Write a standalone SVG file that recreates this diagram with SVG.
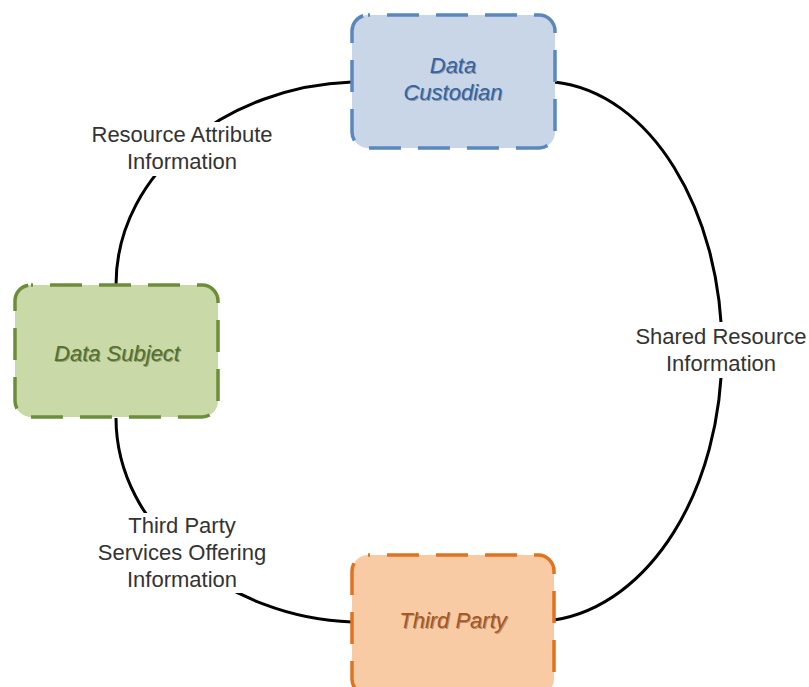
<svg xmlns="http://www.w3.org/2000/svg" width="809" height="687" viewBox="0 0 809 687">
<defs>
<style>
.box{stroke-width:3.5;stroke-dasharray:32 17;stroke-dashoffset:30}
.conn{fill:none;stroke:#000;stroke-width:3}
.lbl{font-family:"Liberation Sans",Arial,sans-serif;font-size:22px;fill:#333;text-anchor:middle}
.nt{font-family:"Liberation Sans",Arial,sans-serif;font-size:22px;font-style:italic;text-anchor:middle}
.sh{fill:#000;fill-opacity:0.3}
</style>
</defs>
<rect width="809" height="687" fill="#fff"/>
<g id="connectors">
<path class="conn" d="M352,82 C230,86 116,170 116,285"/>
<path class="conn" d="M554,82 C650,92 722,210 722,350 C722,490 650,605 554,620"/>
<path class="conn" d="M116,418 C116,530 230,618 352,622"/>
<rect x="86" y="122" width="194" height="54" fill="#fff"/>
<rect x="632" y="322" width="177" height="56" fill="#fff"/>
<rect x="94" y="513" width="177" height="80" fill="#fff"/>
<text class="lbl" x="182" y="142">Resource Attribute</text>
<text class="lbl" x="182" y="169">Information</text>
<text class="lbl" x="721" y="344">Shared Resource</text>
<text class="lbl" x="721" y="371">Information</text>
<text class="lbl" x="182" y="533">Third Party</text>
<text class="lbl" x="182" y="560">Services Offering</text>
<text class="lbl" x="182" y="587">Information</text>
</g>
<g id="data-custodian">
<rect class="box" x="352" y="15" width="203" height="133" rx="16" fill="#c8d6e8" stroke="#5b87bf"/>
<text class="nt sh" x="454" y="74">Data</text>
<text class="nt sh" x="454" y="101">Custodian</text>
<text class="nt" x="453" y="73" fill="#3564a3">Data</text>
<text class="nt" x="453" y="100" fill="#3564a3">Custodian</text>
</g>
<g id="data-subject">
<rect class="box" x="15" y="285" width="203" height="132" rx="16" fill="#c9d9a7" stroke="#6e8d3a"/>
<text class="nt sh" x="118" y="362">Data Subject</text>
<text class="nt" x="117" y="361" fill="#55702a">Data Subject</text>
</g>
<g id="third-party">
<rect class="box" x="352" y="555" width="202" height="140" rx="16" fill="#f9cba5" stroke="#e0731f"/>
<text class="nt sh" x="454" y="629">Third Party</text>
<text class="nt" x="453" y="628" fill="#a9561a">Third Party</text>
</g>
</svg>
